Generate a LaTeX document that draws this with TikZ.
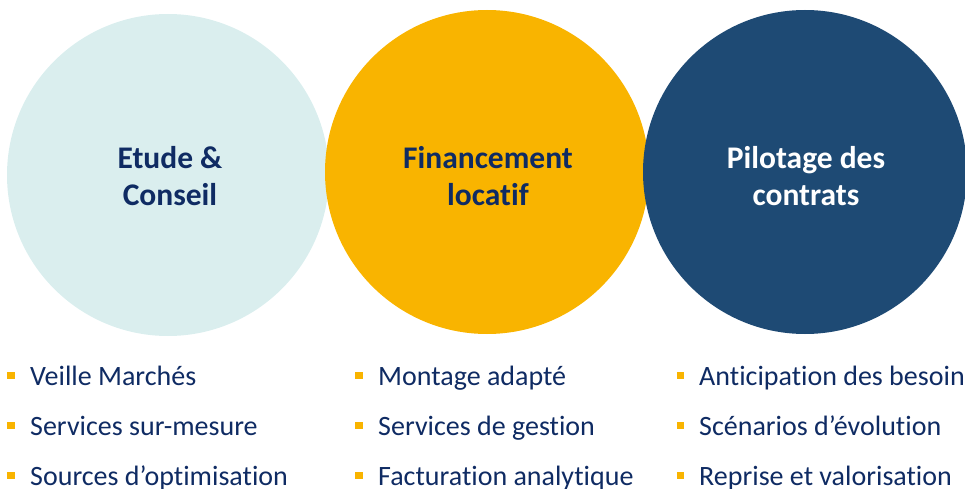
\documentclass[tikz,border=0pt]{standalone}
\usepackage{fontspec}
\setmainfont{Carlito}[Ligatures={NoCommon,NoRequired,NoContextual}]
\definecolor{txtnavy}{HTML}{0F2B63}
\definecolor{lightc}{HTML}{DAEEEE}
\definecolor{yellowc}{HTML}{F9B400}
\definecolor{navyc}{HTML}{1E4A74}
\definecolor{bulletc}{HTML}{F9B400}
\tikzset{
  disc/.style={circle, draw=none, inner sep=0pt},
  title/.style={font=\fontsize{31.5}{37}\selectfont\bfseries, align=center, text=txtnavy},
  item/.style={font=\fontsize{28}{30}\selectfont, text=txtnavy, anchor=base west, inner sep=0pt},
  sq/.style={fill=bulletc, draw=none, minimum width=7.5pt, minimum height=7pt, inner sep=0pt}
}
\begin{document}
\begin{tikzpicture}[x=1pt,y=1pt]
\useasboundingbox (0,0) rectangle (965,-489);
\clip (0,0) rectangle (965,-489);
\node[disc, fill=lightc, minimum size=322pt] (c1) at (168,-175) {};
\node[disc, fill=yellowc, minimum size=324pt] (c2) at (487,-172) {};
\node[disc, fill=navyc, minimum size=324pt] (c3) at (805,-172) {};
\node[title] (t1) at (170,-176) {Etude \&\\Conseil};
\node[title] (t2) at (488,-176) {Financement\\locatif};
\node[title, text=white] (t3) at (806,-176) {Pilotage des\\contrats};
% column 1
\node[sq] (b11) at (11,-375) {};
\node[sq] (b12) at (11,-425) {};
\node[sq] (b13) at (11,-475) {};
\node[item] (i11) at (30,-385) {Veille Marchés};
\node[item] (i12) at (30,-435) {Services sur-mesure};
\node[item] (i13) at (30,-485) {Sources d’optimisation};
% column 2
\node[sq] (b21) at (359,-375) {};
\node[sq] (b22) at (359,-425) {};
\node[sq] (b23) at (359,-475) {};
\node[item] (i21) at (378,-385) {Montage adapté};
\node[item] (i22) at (378,-435) {Services de gestion};
\node[item] (i23) at (378,-485) {Facturation analytique};
% column 3
\node[sq] (b31) at (680.5,-375) {};
\node[sq] (b32) at (680.5,-425) {};
\node[sq] (b33) at (680.5,-475) {};
\node[item] (i31) at (699,-385) {Anticipation des besoins};
\node[item] (i32) at (699,-435) {Scénarios d’évolution};
\node[item] (i33) at (699,-485) {Reprise et valorisation};
\end{tikzpicture}
\end{document}
